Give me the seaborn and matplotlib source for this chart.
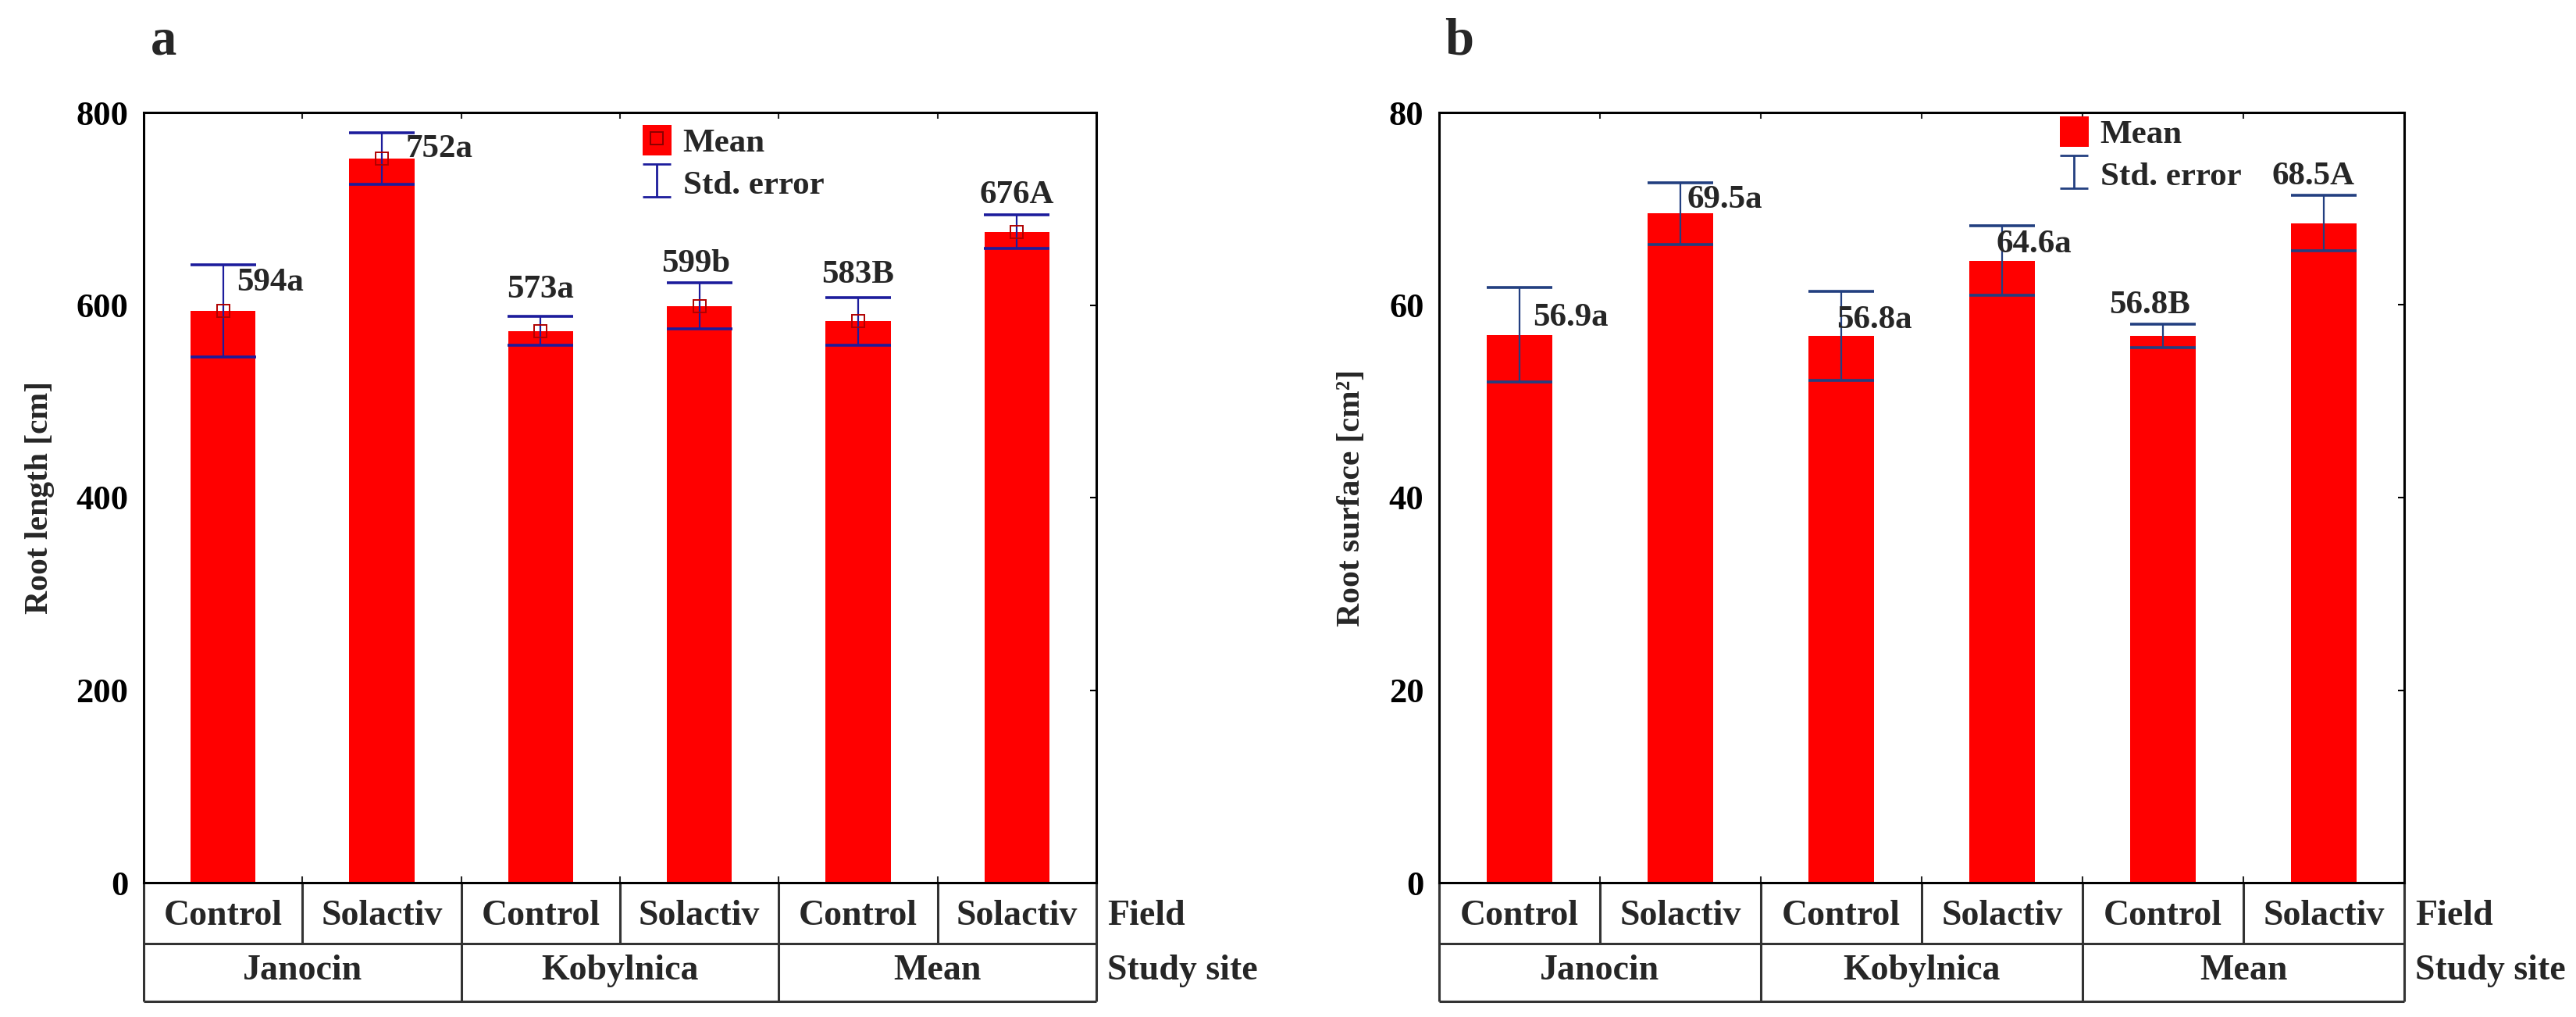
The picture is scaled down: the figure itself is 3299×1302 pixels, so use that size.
import numpy as np
import pandas as pd
import matplotlib
matplotlib.use("Agg")
import matplotlib.pyplot as plt
import seaborn as sns
from matplotlib.patches import Patch
from matplotlib.lines import Line2D
from matplotlib.path import Path
from matplotlib.legend_handler import HandlerTuple

# data
sites = ["Janocin", "Kobylnica", "Mean"]
fields = ["Control", "Solactiv", "Control", "Solactiv", "Control", "Solactiv"]

length_mean = [594, 752, 573, 599, 583, 676]
length_se = [48, 27, 15, 24, 25, 17.5]
length_labels = ["594a", "752a", "573a", "599b", "583B", "676A"]

surface_mean = [56.9, 69.5, 56.8, 64.6, 56.8, 68.5]
surface_se = [4.9, 3.2, 4.6, 3.6, 1.2, 2.9]
surface_labels = ["56.9a", "69.5a", "56.8a", "64.6a", "56.8B", "68.5A"]

# label placement: (ha, dx px, dy px) relative to bar centre / bar top
length_label_pos = [("left", 17, 36), ("left", 30, 12), ("center", 0, 53),
                    ("center", -4, 54), ("center", 0, 59), ("center", 0, 47)]
surface_label_pos = [("left", 17, 22), ("left", 8, 17), ("left", -6, 20),
                     ("left", -8, 21), ("center", -17, 39), ("center", -13, 60)]

sns.set_theme(style="white")
plt.rcParams['font.family'] = ['Liberation Serif', 'DejaVu Serif']
plt.rcParams['font.weight'] = 'bold'
plt.rcParams['axes.labelweight'] = 'bold'

ERR_PATH = Path([(-0.85, -1), (0.85, -1), (0, -1), (0, 1), (-0.85, 1), (0.85, 1)],
                [Path.MOVETO, Path.LINETO, Path.MOVETO, Path.LINETO, Path.MOVETO, Path.LINETO])


def draw_table(ax):
    tr = ax.get_xaxis_transform()
    r1, r2 = -78 / 986, -152 / 986
    kw = dict(transform=tr, clip_on=False, color="#333333", lw=2.2, solid_capstyle="butt")
    ax.plot([-0.5, 5.5], [r1, r1], **kw)
    ax.plot([-0.5, 5.5], [r2, r2], **kw)
    for x in [-0.5, 5.5]:
        ax.plot([x, x], [0, r2], **kw)
    for x in [0.5, 2.5, 4.5]:
        ax.plot([x, x], [0, r1], **kw)
    for x in [1.5, 3.5]:
        ax.plot([x, x], [0, r2], **kw)
    for i, f in enumerate(fields):
        ax.text(i, (0 + r1) / 2 - 0.004, f, transform=tr, ha="center", va="center", fontsize=33)
    for j, s in enumerate(sites):
        ax.text(2 * j + 0.5, (r1 + r2) / 2 + 0.002, s, transform=tr, ha="center", va="center", fontsize=33)
    ax.text(1 + 14 / 1220, (0 + r1) / 2 - 0.004, "Field", transform=ax.transAxes,
            ha="left", va="center", fontsize=33)
    ax.text(1 + 14 / 1220, (r1 + r2) / 2 + 0.002, "Study site", transform=ax.transAxes,
            ha="left", va="center", fontsize=33)


def bar_panel(ax, means, se, labels, label_pos, ylabel, ymax, ecolor, show_marker):
    df = pd.DataFrame({"group": [s + " " + f for s in sites for f in ["Control", "Solactiv"]],
                       "value": means})
    sns.barplot(data=df, x="group", y="value", color="#ff0000", saturation=1,
                width=0.41, edgecolor="none", ax=ax)
    x = np.arange(len(means))
    ax.errorbar(x, means, yerr=se, fmt="none", ecolor=ecolor, elinewidth=1.6,
                capsize=30, capthick=2.6)
    if show_marker:
        ax.plot(x, means, ls="none", marker="s", mfc="none", mec="#b00000", ms=12, mew=1.4)
    for i, (txt, (ha, dx, dy)) in enumerate(zip(labels, label_pos)):
        ax.annotate(txt, xy=(i, means[i]), xytext=(dx, dy), textcoords="offset pixels",
                    ha=ha, va="center", fontsize=31)

    ax.set_xlim(-0.5, 5.5)
    ax.set_ylim(0, ymax)
    ax.set_yticks(np.linspace(0, ymax, 5))
    ax.set_yticklabels([f"{v:g}" for v in np.linspace(0, ymax, 5)])
    ax.set_xticks(np.arange(0.5, 5.5, 1))
    ax.set_xticklabels([])
    ax.set_xlabel("")
    ax.set_ylabel(ylabel, fontsize=30)
    ax.tick_params(axis="y", direction="in", length=6, width=1.5, right=True,
                   labelsize=32, pad=14, colors="black")
    ax.tick_params(axis="x", direction="in", length=6, width=1.5, top=True, bottom=True)
    for sp in ax.spines.values():
        sp.set_color("black")
        sp.set_linewidth(2.2)
    draw_table(ax)


fig = plt.figure(figsize=(32.99, 13.02), dpi=100)
ax_a = fig.add_axes([184 / 3299, 172 / 1302, 1220 / 3299, 986 / 1302])
ax_b = fig.add_axes([1843 / 3299, 172 / 1302, 1236 / 3299, 986 / 1302])

bar_panel(ax_a, length_mean, length_se, length_labels, length_label_pos,
          "Root length [cm]", 800, "#1c1c9c", True)
bar_panel(ax_b, surface_mean, surface_se, surface_labels, surface_label_pos,
          "Root surface [cm²]", 80, "#223f80", False)
ax_a.yaxis.set_label_coords((70 - 184) / 1220, 0.5)
ax_b.yaxis.set_label_coords((1750 - 1843) / 1236, 0.5)

# legends
err_a = Line2D([], [], ls="none", marker=ERR_PATH, ms=30, mfc="none", mec="#1c1c9c", mew=2)
mean_a = (Patch(facecolor="#ff0000", edgecolor="none"),
          Line2D([], [], ls="none", marker="s", mfc="none", mec="#8a0000", ms=11, mew=1.4))
ax_a.legend([mean_a, err_a], ["Mean", "Std. error"], handler_map={tuple: HandlerTuple(ndivide=1, pad=0)},
            loc="upper left", bbox_to_anchor=((823 - 184) / 1220, (1130 - 160) / 986),
            frameon=False, fontsize=31, handlelength=0.85, handleheight=1.0,
            handletextpad=0.35, labelspacing=0.25, borderpad=0, borderaxespad=0)

err_b = Line2D([], [], ls="none", marker=ERR_PATH, ms=30, mfc="none", mec="#223f80", mew=2)
mean_b = Patch(facecolor="#ff0000", edgecolor="none")
ax_b.legend([mean_b, err_b], ["Mean", "Std. error"],
            loc="upper left", bbox_to_anchor=((2638 - 1843) / 1236, (1130 - 149) / 986),
            frameon=False, fontsize=31, handlelength=0.85, handleheight=1.0,
            handletextpad=0.35, labelspacing=0.25, borderpad=0, borderaxespad=0)

fig.text(193 / 3299, 1 - 70 / 1302, "a", fontsize=48, ha="left", va="baseline")
fig.text(1850 / 3299, 1 - 70 / 1302, "b", fontsize=48, ha="left", va="baseline")

fig.savefig("out.png", dpi=100)
